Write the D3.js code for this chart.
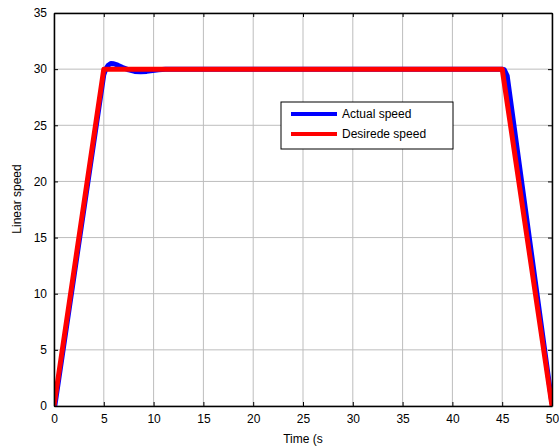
<!DOCTYPE html>
<html>
<head>
<meta charset="utf-8">
<script src="https://cdn.jsdelivr.net/npm/d3@7"></script>
<style>
  body { margin: 0; background: #fff; }
  svg { display: block; font-family: "Liberation Sans", Arial, sans-serif; }
</style>
</head>
<body>
<svg id="chart" width="559" height="447"></svg>
<script>
// time ticks and speed ticks
const xTicks = [0, 5, 10, 15, 20, 25, 30, 35, 40, 45, 50];
const yTicks = [0, 5, 10, 15, 20, 25, 30, 35];

// desired speed profile (trapezoid)
const desiredT = [0, 5, 45, 50];
const desiredV = [0, 30, 30, 0];

// actual speed
const actualT = [0, 0.08, 5.0, 5.2, 5.45, 5.7, 6.0, 6.4, 6.9, 7.5, 8.1, 8.7, 9.3, 9.9, 10.5, 11.2, 12, 45.0, 45.2, 45.5, 50.0];
const actualV = [0, 0, 29.5, 30.0, 30.35, 30.5, 30.48, 30.35, 30.15, 29.93, 29.8, 29.76, 29.8, 29.88, 29.95, 29.99, 30, 30, 29.95, 29.4, 0.2];

const legendNames = ["Actual speed", "Desirede speed"];
const colors = ["#0000ff", "#ff0000"];

let svg = d3.select("#chart");
const margin = {left: 54, right: 7, top: 13, bottom: 41};
const width = 559, height = 447;

let x = d3.scaleLinear().domain([0, 50]).range([margin.left, width - margin.right]);
let y = d3.scaleLinear().domain([0, 35]).range([height - margin.bottom, margin.top]);

// grid
svg.append("g")
  .selectAll("line")
  .data(xTicks)
  .enter().append("line")
  .attr("x1", d => x(d)).attr("x2", d => x(d))
  .attr("y1", y(0)).attr("y2", y(35))
  .attr("stroke", "#bdbdbd").attr("stroke-width", 1);
svg.append("g")
  .selectAll("line")
  .data(yTicks)
  .enter().append("line")
  .attr("y1", d => y(d)).attr("y2", d => y(d))
  .attr("x1", x(0)).attr("x2", x(50))
  .attr("stroke", "#bdbdbd").attr("stroke-width", 1);

// data lines
let actual = actualT.map((t, i) => [t, actualV[i]]);
let desired = desiredT.map((t, i) => [t, desiredV[i]]);

svg.append("defs").append("clipPath").attr("id", "clip")
  .append("rect")
  .attr("x", x(0)).attr("y", y(35))
  .attr("width", x(50) - x(0)).attr("height", y(0) - y(35));

let plot = svg.append("g").attr("clip-path", "url(#clip)");

plot.append("path")
  .datum(actual)
  .attr("d", d3.line().x(d => x(d[0])).y(d => y(d[1])))
  .attr("fill", "none").attr("stroke", colors[0]).attr("stroke-width", 5)
  .attr("stroke-linejoin", "round");

plot.append("path")
  .datum(desired)
  .attr("d", d3.line().x(d => x(d[0])).y(d => y(d[1])))
  .attr("fill", "none").attr("stroke", colors[1]).attr("stroke-width", 5)
  .attr("stroke-linejoin", "round");

// axes (ticks inside, matlab style)
let xAxis = svg.append("g").attr("transform", `translate(0,${y(0)})`)
  .call(d3.axisBottom(x).tickValues(xTicks).tickSizeInner(-4).tickSizeOuter(0).tickPadding(8));
let yAxis = svg.append("g").attr("transform", `translate(${x(0)},0)`)
  .call(d3.axisLeft(y).tickValues(yTicks).tickSizeInner(-4).tickSizeOuter(0).tickPadding(7));
let xTop = svg.append("g").attr("transform", `translate(0,${y(35)})`)
  .call(d3.axisTop(x).tickValues(xTicks).tickSizeInner(-4).tickSizeOuter(0).tickFormat(""));
let yRight = svg.append("g").attr("transform", `translate(${x(50)},0)`)
  .call(d3.axisRight(y).tickValues(yTicks).tickSizeInner(-4).tickSizeOuter(0).tickFormat(""));

[xAxis, yAxis, xTop, yRight].forEach(g => {
  g.select(".domain").attr("stroke", "#000").attr("stroke-width", 1.5);
  g.selectAll(".tick line").attr("stroke", "#000");
  g.selectAll("text").attr("fill", "#000").style("font-size", "12px").style("font-family", "Liberation Sans, Arial, sans-serif");
});

// axis labels
svg.append("text")
  .attr("x", (x(0) + x(50)) / 2).attr("y", 443)
  .attr("text-anchor", "middle").style("font-size", "12px")
  .text("Time (s");
svg.append("text")
  .attr("transform", `translate(21,${199}) rotate(-90)`)
  .attr("text-anchor", "middle").style("font-size", "12px")
  .text("Linear speed");

// legend
let legend = svg.append("g").attr("transform", "translate(281,102)");
legend.append("rect")
  .attr("width", 172).attr("height", 47)
  .attr("fill", "#fff").attr("stroke", "#000").attr("stroke-width", 1);
legendNames.forEach((name, i) => {
  legend.append("line")
    .attr("x1", 10).attr("x2", 56)
    .attr("y1", 12 + i * 20).attr("y2", 12 + i * 20)
    .attr("stroke", colors[i]).attr("stroke-width", 4);
  legend.append("text")
    .attr("x", 61).attr("y", 16 + i * 20)
    .style("font-size", "12px")
    .text(name);
});
</script>
</body>
</html>
